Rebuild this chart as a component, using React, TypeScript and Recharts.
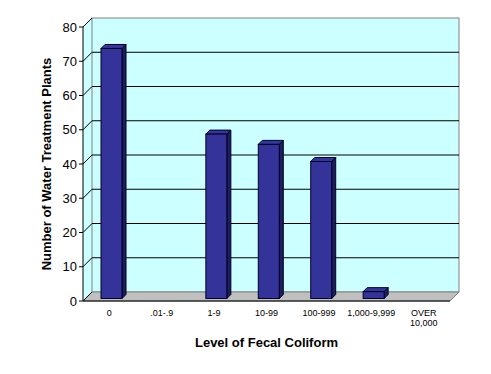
import React from 'react';
import { ComposedChart, Bar, XAxis, YAxis, ReferenceArea, ReferenceLine } from 'recharts';

const categories = ['0', '.01-.9', '1-9', '10-99', '100-999', '1,000-9,999', 'OVER 10,000'];
const plantCounts = [73, 0, 48, 45, 40, 2, 0];
const yTicks = [0, 10, 20, 30, 40, 50, 60, 70, 80];
// category boundaries expressed on a 0..6 helper axis spanning the plot width
const boundaryTicks = [0, 1, 2, 3, 4, 5, 6, 7].map((k) => (k * 6) / 7);

const data = categories.map((category, i) => ({ category, plants: plantCounts[i] }));

const D = 9;
const FONT = '"Liberation Sans", Arial, Helvetica, sans-serif';

const Walls = (props: any) => {
  const x = Number(props.x);
  const y = Number(props.y);
  const w = Number(props.width);
  const h = Number(props.height);
  return (
    <g>
      <polygon points={`${x},${y} ${x + D},${y - D} ${x + D},${y + h - D} ${x},${y + h}`} fill="#CCFFFF" stroke="none" />
      <rect x={x + D} y={y - D} width={w} height={h} fill="#CCFFFF" stroke="#808080" strokeWidth={1} />
      <polygon points={`${x},${y + h} ${x + D},${y + h - D} ${x + w + D},${y + h - D} ${x + w},${y + h}`} fill="#C0C0C0" stroke="#808080" strokeWidth={1} />
    </g>
  );
};

const makeGridLine = (v: number) => (props: any) => {
  const x1 = Number(props.x1);
  const y1 = Number(props.y1);
  const x2 = Number(props.x2);
  const y2 = Number(props.y2);
  const inner = v !== 0 && v !== 80;
  return (
    <g>
      <line x1={x1} y1={y1} x2={x1 + D} y2={y1 - D} stroke="#000" strokeWidth={1} />
      {inner && <line x1={x1 + D} y1={y1 - D} x2={x2 + D} y2={y2 - D} stroke="#000" strokeWidth={1} />}
    </g>
  );
};

const BarBox = (props: any) => {
  const x = Number(props.x);
  const y = Number(props.y);
  const width = Number(props.width);
  const height = Number(props.height);
  if (!height || height <= 0) return null;
  const fx = x + 2;
  const fy = y - 2.5;
  const d = 4;
  return (
    <g stroke="#000026" strokeWidth={1}>
      <polygon points={`${fx + width},${fy} ${fx + width + d},${fy - d} ${fx + width + d},${fy + height - d} ${fx + width},${fy + height}`} fill="#1E1E5C" />
      <polygon points={`${fx},${fy} ${fx + d},${fy - d} ${fx + width + d},${fy - d} ${fx + width},${fy}`} fill="#35359C" />
      <rect x={fx} y={fy} width={width} height={height} fill="#333399" />
    </g>
  );
};

const CategoryTick = (props: any) => {
  const { x, y, payload } = props;
  const lines = String(payload.value).split(' ');
  return (
    <text x={x} y={y} textAnchor="middle" fontSize={9} fill="#000" fontFamily={FONT}>
      {lines.map((l, i) => (
        <tspan key={i} x={x} dy={i === 0 ? 14 : 10}>{l}</tspan>
      ))}
    </text>
  );
};

const YTitle = (props: any) => {
  const { viewBox } = props;
  const cx = viewBox.x + 23;
  const cy = viewBox.y + viewBox.height / 2;
  return (
    <text x={cx} y={cy} transform={`rotate(-90, ${cx}, ${cy})`} textAnchor="middle" dominantBaseline="central" fontSize={13} fontWeight="bold" fill="#000" fontFamily={FONT}>
      Number of Water Treatment Plants
    </text>
  );
};

const XTitle = (props: any) => {
  const { viewBox } = props;
  const cx = viewBox.x + viewBox.width / 2;
  const cy = viewBox.y + 45;
  return (
    <text x={cx} y={cy} textAnchor="middle" fontSize={13} fontWeight="bold" fill="#000" fontFamily={FONT}>
      Level of Fecal Coliform
    </text>
  );
};

export default function App() {
  return (
    <div style={{ position: 'absolute', left: 0, top: 0, width: 491, height: 374, background: '#fff', fontFamily: FONT }}>
      <ComposedChart width={491} height={374} data={data} margin={{ top: 27, right: 41, bottom: 0, left: 23 }} barSize={21}>
        <XAxis
          xAxisId="a"
          type="number"
          domain={[0, 6]}
          allowDataOverflow
          ticks={boundaryTicks}
          tick={false}
          tickSize={4}
          height={1}
          axisLine={{ stroke: '#000' }}
          tickLine={{ stroke: '#000' }}
        />
        <XAxis
          dataKey="category"
          xAxisId="b"
          height={72}
          axisLine={false}
          tickLine={false}
          tickSize={0}
          tickMargin={0}
          interval={0}
          tick={<CategoryTick />}
          label={<XTitle />}
        />
        <YAxis
          domain={[0, 80]}
          ticks={yTicks}
          width={60}
          tickSize={4}
          tickMargin={2}
          interval={0}
          axisLine={{ stroke: '#000' }}
          tickLine={{ stroke: '#000' }}
          tick={{ fill: '#000', fontSize: 13, fontFamily: FONT }}
          label={<YTitle />}
        />
        <ReferenceArea xAxisId="a" x1={0} x2={6} y1={0} y2={80} shape={<Walls />} ifOverflow="visible" zIndex={-60} />
        {yTicks.map((v) => (
          <ReferenceLine key={v} xAxisId="a" y={v} shape={makeGridLine(v)} ifOverflow="visible" zIndex={-55} />
        ))}
        <Bar dataKey="plants" xAxisId="b" shape={<BarBox />} isAnimationActive={false} />
      </ComposedChart>
    </div>
  );
}
